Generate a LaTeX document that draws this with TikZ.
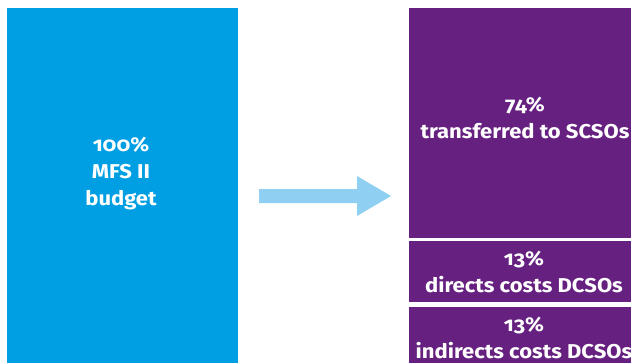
\documentclass[tikz,border=0pt]{standalone}
\usepackage{fontspec}
\setmainfont{Fira Sans}[Numbers=OldStyle, FakeStretch=1.1]
\definecolor{mfsblue}{RGB}{0,159,227}
\definecolor{mfspurple}{RGB}{102,33,128}
\definecolor{arrowblue}{RGB}{143,208,242}
\tikzset{
  boxlabel/.style={text=white, font=\bfseries\fontsize{20}{27}\selectfont, align=center, inner sep=0pt, anchor=center},
}
\begin{document}
\begin{tikzpicture}[x=1pt,y=-1pt]
\useasboundingbox (0,0) rectangle (631,362);
\clip (0,0) rectangle (631,362);
% boxes
\fill[mfsblue] (7,8) rectangle (238,380);
\fill[mfspurple] (409,8) rectangle (640,238);
\fill[mfspurple] (409,241) rectangle (640,302);
\fill[mfspurple] (409,307) rectangle (640,380);
% arrow
\coordinate (a1) at (259,189);
\coordinate (a2) at (357,189);
\coordinate (a3) at (357,176);
\coordinate (tip) at (391,196);
\coordinate (a5) at (357,216);
\coordinate (a6) at (357,203);
\coordinate (a7) at (259,203);
\fill[arrowblue] (a1) -- (a2) -- (a3) -- (tip) -- (a5) -- (a6) -- (a7) -- cycle;
% labels
\node[boxlabel] (budget) at (121,174) {100\%\\MFS II\\budget};
\node[boxlabel] (scso) at (525,118) {74\%\\transferred to SCSOs};
\node[boxlabel] (direct) at (524,272) {13\%\\directs costs DCSOs};
\node[boxlabel] (indirect) at (524,338) {13\%\\indirects costs DCSOs};
\end{tikzpicture}
\end{document}
